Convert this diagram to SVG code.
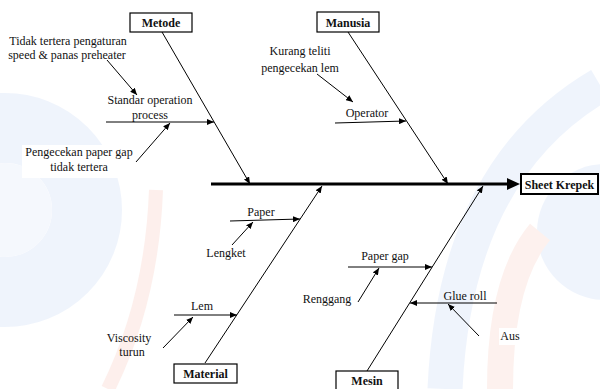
<svg xmlns="http://www.w3.org/2000/svg" width="600" height="389" viewBox="0 0 600 389" font-family="Liberation Serif, Times New Roman, serif">
<defs>
<marker id="ah" markerUnits="userSpaceOnUse" markerWidth="7" markerHeight="6" refX="7" refY="3" orient="auto">
<path d="M0,0 L7,3 L0,6 z" fill="#000"/>
</marker>
</defs>
<style>
text{font-family:"Liberation Serif",serif;font-size:12px;fill:#111;text-anchor:middle}
.b{font-weight:bold}
.box{fill:#fff;stroke:#000;stroke-width:1.2}
.c{stroke:#000;stroke-width:1;fill:none;marker-end:url(#ah)}
</style>
<rect width="600" height="389" fill="#fff"/>
<g id="watermark" opacity="0.6">
<circle cx="5" cy="210" r="82" stroke="#e6eefb" stroke-width="70" fill="none"/>
<circle cx="5" cy="210" r="47" fill="#f0f4fd"/>
<path d="M156,190 Q152,300 108,389" stroke="#fce6e0" stroke-width="14" fill="none"/>
<path d="M445,389 Q455,170 600,85" stroke="#e6eefb" stroke-width="35" fill="none"/>
<circle cx="605" cy="232" r="68" fill="#e6eefb"/>
<path d="M500,389 Q500,280 540,232" stroke="#fce9e3" stroke-width="26" fill="none"/>
</g>
<rect x="22" y="145" width="113" height="33" fill="#fff"/>
<rect x="499" y="328" width="22" height="17" fill="#fff"/>
<g id="connectors">
<line x1="211" y1="184" x2="509" y2="184" stroke="#000" stroke-width="3"/>
<polygon points="507,178 520,184 507,190" fill="#000"/>
<line class="c" x1="162" y1="32" x2="250" y2="184"/>
<line class="c" x1="348" y1="32" x2="448" y2="184"/>
<line class="c" x1="205" y1="363" x2="322" y2="186"/>
<line class="c" x1="367" y1="371" x2="483" y2="186"/>
<line class="c" x1="106" y1="122" x2="214" y2="122"/>
<line class="c" x1="107" y1="60" x2="137" y2="95"/>
<line class="c" x1="136" y1="162" x2="170" y2="123"/>
<line class="c" x1="317" y1="74" x2="353" y2="102"/>
<line class="c" x1="335" y1="123" x2="406" y2="121"/>
<line class="c" x1="230" y1="221" x2="300" y2="219"/>
<line class="c" x1="232" y1="245" x2="253" y2="222"/>
<line class="c" x1="174" y1="315" x2="237" y2="315"/>
<line class="c" x1="163" y1="348" x2="193" y2="317"/>
<line class="c" x1="348" y1="267" x2="432" y2="267"/>
<line class="c" x1="358" y1="302" x2="379" y2="268"/>
<line class="c" x1="497" y1="303" x2="410" y2="303"/>
<line class="c" x1="479" y1="336" x2="448" y2="304"/>
</g>
<g id="metode"><rect class="box" x="130" y="13" width="62" height="19"/><text class="b" x="161" y="27" font-family="Liberation Serif">Metode</text></g>
<g id="manusia"><rect class="box" x="317" y="12" width="62" height="20"/><text class="b" x="348" y="27" font-family="Liberation Serif">Manusia</text></g>
<g id="material"><rect class="box" x="174" y="364" width="63" height="19"/><text class="b" x="205.5" y="378" font-family="Liberation Serif">Material</text></g>
<g id="mesin"><rect class="box" x="336" y="371" width="62" height="22"/><text class="b" x="367" y="385" font-family="Liberation Serif">Mesin</text></g>
<g id="sheet-krepek"><rect x="521" y="174" width="77" height="20" fill="#fff" stroke="#000" stroke-width="2"/><text class="b" x="559.5" y="189" font-family="Liberation Serif">Sheet Krepek</text></g>
<g id="sop"><text x="150" y="104" font-family="Liberation Serif">Standar operation</text><text x="150" y="119" font-family="Liberation Serif">process</text></g>
<g id="tidak-tertera"><text x="68" y="45" font-family="Liberation Serif">Tidak tertera pengaturan</text><text x="67" y="59" font-family="Liberation Serif">speed &amp; panas preheater</text></g>
<g id="pengecekan"><text x="79" y="156" font-family="Liberation Serif">Pengecekan paper gap</text><text x="79" y="171" font-family="Liberation Serif">tidak tertera</text></g>
<g id="kurang-teliti"><text x="300" y="55" font-family="Liberation Serif">Kurang teliti</text><text x="300" y="72" font-family="Liberation Serif">pengecekan lem</text></g>
<g id="operator"><text x="367" y="117" font-family="Liberation Serif">Operator</text></g>
<g id="paper"><text x="261" y="216" font-family="Liberation Serif">Paper</text></g>
<g id="lengket"><text x="226" y="257" font-family="Liberation Serif">Lengket</text></g>
<g id="lem"><text x="202" y="310" font-family="Liberation Serif">Lem</text></g>
<g id="viscosity"><text x="129" y="342" font-family="Liberation Serif">Viscosity</text><text x="132" y="356" font-family="Liberation Serif">turun</text></g>
<g id="paper-gap"><text x="385" y="260" font-family="Liberation Serif">Paper gap</text></g>
<g id="renggang"><text x="327" y="303" font-family="Liberation Serif">Renggang</text></g>
<g id="glue-roll"><text x="465" y="300" font-family="Liberation Serif">Glue roll</text></g>
<g id="aus"><text x="510" y="340" font-family="Liberation Serif">Aus</text></g>
</svg>
